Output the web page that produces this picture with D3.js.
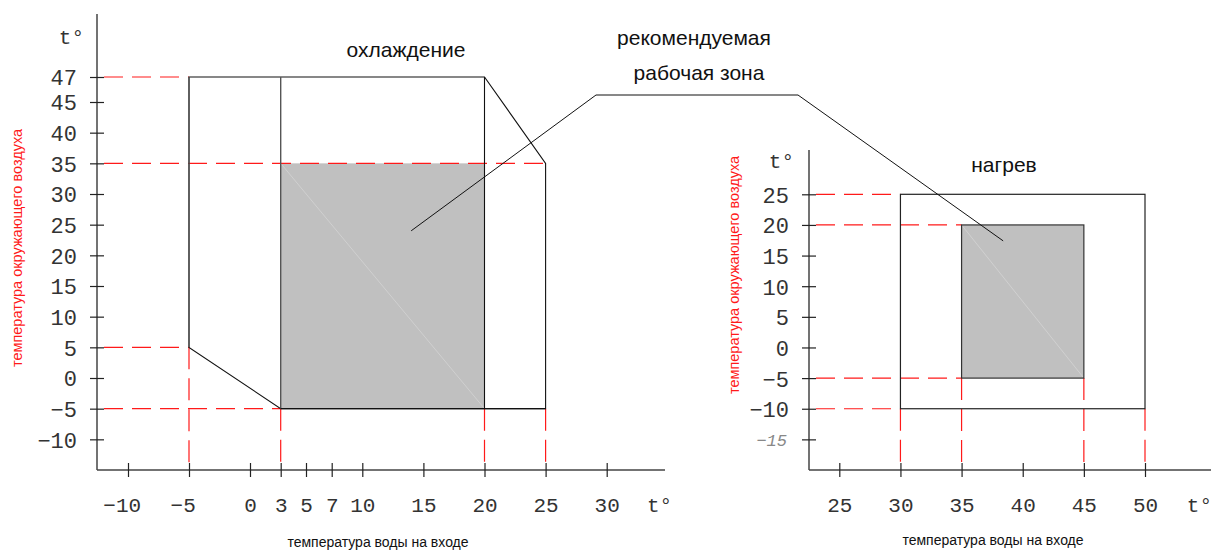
<!DOCTYPE html>
<html>
<head>
<meta charset="utf-8">
<script src="https://cdn.jsdelivr.net/npm/d3@7"></script>
<style>
body { margin: 0; background: #fff; }
</style>
</head>
<body>
<svg width="1215" height="550"></svg>
<script>
// cooling (охлаждение)
var coolTicksX = [-10, -5, 0, 3, 5, 7, 10, 15, 20, 25, 30];
var coolTicksY = [47, 45, 40, 35, 30, 25, 20, 15, 10, 5, 0, -5, -10];
var coolEnvelope = [[-5, 47], [20, 47], [25, 35], [25, -5], [3, -5], [-5, 5]];
var coolZone = [3, 20, -5, 35];          // water from, to, air from, to
var coolDividers = [3, 20];              // inner verticals 47 -> -5
var coolGuideH = [[47, -5], [35, 25], [5, -5], [-5, 3]];   // air t, up to water t
var coolGuideV = [[-5, 5], [3, -5], [20, -5], [25, -5]];   // water t, from air t

// heating (нагрев)
var heatTicksX = [25, 30, 35, 40, 45, 50];
var heatTicksY = [25, 20, 15, 10, 5, 0, -5, -10, -15];
var heatEnvelope = [30, 50, -10, 25];
var heatZone = [35, 45, -5, 20];
var heatGuideH = [[25, 30], [20, 35], [-5, 35], [-10, 30]];
var heatGuideV = [[30, -10], [35, -5], [45, -5], [50, -10]];

var SANS = "Liberation Sans, Arial, sans-serif";
var MONO = "Liberation Mono, DejaVu Sans Mono, monospace";

var svg = d3.select("svg");
var base = 470;

// the drawing is a schematic, the cooling axes are not quite uniform
var xC = d3.scaleLinear().domain([-10, 0, 3, 5, 7, 10, 30]).range([128, 250, 280.7, 306, 331.7, 362.3, 606.7]);
var yC = d3.scaleLinear().domain([-15, 45, 47]).range([base, 102, 77]);
var xH = d3.scaleLinear().domain([25, 50]).range([839.3, 1145]);
var yH = d3.scaleLinear().domain([-20, 25]).range([base, 194.3]);

var L = {ax: 97, top: 14, right: 665};
var R = {ax: 809, top: 150, right: 1211};

function fmt(d){
    return d < 0 ? "\u2212" + Math.abs(d) : "" + d;
}

function zoneRect(x, y, z, fill){
    svg.append("rect")
        .attr("x", x(z[0]))
        .attr("y", y(z[3]))
        .attr("width", x(z[1]) - x(z[0]))
        .attr("height", y(z[2]) - y(z[3]))
        .attr("fill", fill);
}

function line(x1, y1, x2, y2, color, w, dash){
    var l = svg.append("line")
        .attr("x1", x1).attr("y1", y1)
        .attr("x2", x2).attr("y2", y2)
        .attr("stroke", color)
        .attr("stroke-width", w || 1);
    if(dash) l.attr("stroke-dasharray", dash);
    return l;
}

function guides(x, y, ax, gh, gv){
    gh.forEach(function(g){
        line(ax + 7, y(g[0]), x(g[1]), y(g[0]), "#ff1a1a", 1.2, "19,9");
    });
    gv.forEach(function(g){
        line(x(g[0]), y(g[1]), x(g[0]), base - 7, "#ff1a1a", 1.2, "22,9");
    });
}

function axes(x, y, p, tx, ty){
    line(p.ax, p.top, p.ax, base, "#444", 1.5);
    line(p.ax, base, p.right, base, "#444", 1.5);

    var gy = svg.append("g")
        .attr("transform", "translate(" + p.ax + ",0)")
        .call(d3.axisLeft(y).tickValues(ty).tickSize(7).tickFormat(fmt));
    gy.select(".domain").remove();
    gy.selectAll(".tick line").attr("x1", 7).attr("stroke", "#222").attr("stroke-width", 1.2);
    gy.selectAll(".tick text")
        .attr("x", -20).attr("dy", "0.36em")
        .style("font-family", MONO)
        .style("font-size", "22px").attr("fill", "#333");

    var gx = svg.append("g")
        .attr("transform", "translate(0," + base + ")")
        .call(d3.axisBottom(x).tickValues(tx).tickSize(7).tickFormat(fmt));
    gx.select(".domain").remove();
    gx.selectAll(".tick line").attr("y1", -7).attr("stroke", "#222").attr("stroke-width", 1.2);
    gx.selectAll(".tick text")
        .attr("y", 42).attr("dy", 0)
        .attr("dx", function(d){ return d < 0 ? -6.3 : 0; })
        .style("font-family", MONO)
        .style("font-size", "21px").attr("fill", "#333");
    return gy;
}

function tdeg(x, y, anchor){
    svg.append("text")
        .attr("x", x).attr("y", y)
        .attr("text-anchor", anchor)
        .style("font-family", MONO)
        .style("font-size", "21px").attr("fill", "#333")
        .text("t\u00b0");
}

function label(txt, x, y, size, color, rotate){
    var t = svg.append("text")
        .attr("text-anchor", "middle")
        .style("font-family", SANS)
        .style("font-size", size + "px")
        .attr("fill", color)
        .text(txt);
    if(rotate) t.attr("transform", "translate(" + x + "," + y + ") rotate(-90)");
    else t.attr("x", x).attr("y", y);
}

// ---- cooling chart ----
zoneRect(xC, yC, coolZone, "#c0c0c0");
line(xC(coolZone[0]), yC(coolZone[3]), xC(coolZone[1]), yC(coolZone[2]), "#d0d0d0", 1);
guides(xC, yC, L.ax, coolGuideH, coolGuideV);
svg.append("path")
    .attr("d", d3.line().x(function(d){ return xC(d[0]); }).y(function(d){ return yC(d[1]); })(coolEnvelope) + "Z")
    .attr("fill", "none")
    .attr("stroke", "#111")
    .attr("stroke-width", 1.1);
line(xC(-5), yC(47), xC(-5), yC(5), "#555", 1.4);
coolDividers.forEach(function(d, i){
    line(xC(d), yC(47), xC(d), yC(-5), i == 0 ? "#555" : "#111", i == 0 ? 1.4 : 1.1);
});
line(xC(coolZone[0]), yC(-5), xC(25), yC(-5), "#111", 1.3);
axes(xC, yC, L, coolTicksX, coolTicksY);
tdeg(84, 44, "end");
tdeg(647, 512, "start");

// ---- heating chart ----
zoneRect(xH, yH, heatZone, "#c0c0c0");
line(xH(heatZone[0]), yH(heatZone[3]), xH(heatZone[1]), yH(heatZone[2]), "#d0d0d0", 1);
guides(xH, yH, R.ax, heatGuideH, heatGuideV);
svg.append("rect")
    .attr("x", xH(heatEnvelope[0])).attr("y", yH(heatEnvelope[3]))
    .attr("width", xH(heatEnvelope[1]) - xH(heatEnvelope[0]))
    .attr("height", yH(heatEnvelope[2]) - yH(heatEnvelope[3]))
    .attr("fill", "none").attr("stroke", "#222").attr("stroke-width", 1.2);
svg.append("rect")
    .attr("x", xH(heatZone[0])).attr("y", yH(heatZone[3]))
    .attr("width", xH(heatZone[1]) - xH(heatZone[0]))
    .attr("height", yH(heatZone[2]) - yH(heatZone[3]))
    .attr("fill", "none").attr("stroke", "#333").attr("stroke-width", 1.2);
var gyH = axes(xH, yH, R, heatTicksX, heatTicksY);
gyH.selectAll(".tick text").filter(function(d){ return d == -15; })
    .style("font-size", "17px").style("font-style", "italic").attr("fill", "#888").attr("x", -22);
tdeg(794, 168, "end");
tdeg(1212, 512, "end");

// ---- callout for the recommended zone ----
var elbowY = 95;
svg.append("path")
    .attr("d", d3.line()([[xC(14), yC(24)], [596, elbowY], [798, elbowY], [xH(38.4), yH(17.4)]]))
    .attr("fill", "none")
    .attr("stroke", "#111")
    .attr("stroke-width", 1);

// ---- texts ----
label("охлаждение", 406, 57, 21, "#111");
label("рекомендуемая", 694, 45, 21, "#111");
label("рабочая зона", 699, 80, 21, "#111");
label("нагрев", 1004, 172, 21, "#111");
label("температура окружающего воздуха", 21.5, 248, 14.5, "#ff1a1a", true);
label("температура окружающего воздуха", 739, 275, 14.5, "#ff1a1a", true);
label("температура воды на входе", 378, 547, 14, "#111");
label("температура воды на входе", 993, 545, 14, "#111");
</script>
</body>
</html>
